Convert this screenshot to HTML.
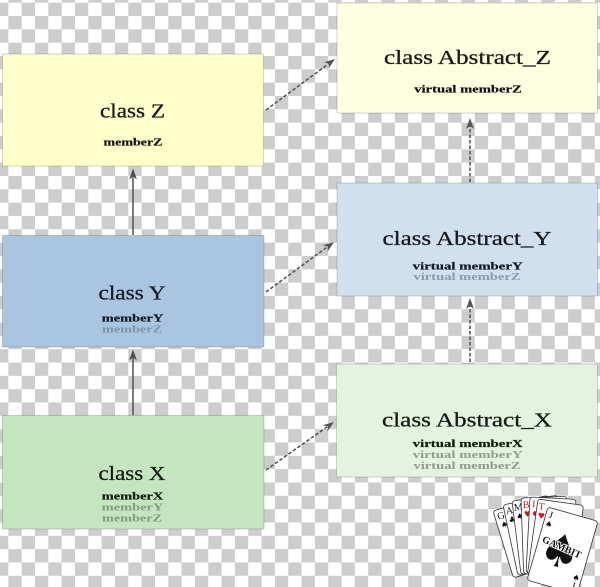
<!DOCTYPE html>
<html><head><meta charset="utf-8">
<style>
html,body{margin:0;padding:0;}
body{width:600px;height:587px;overflow:hidden;position:relative;
background: repeating-conic-gradient(#cdcdcd 0 25%, #ffffff 0 50%) -5px -10.67px / 26.67px 26.67px;}
svg{position:absolute;left:0;top:0;}
.t{font-family:"Liberation Serif",serif;font-size:20px;fill:#1a1a1a;text-anchor:middle;stroke-width:0.3}
.m{font-family:"Liberation Serif",serif;font-size:11px;font-weight:bold;text-anchor:middle;stroke-width:0.2}
.cl{font-family:"Liberation Serif",serif;font-size:10px;}
.su{font-family:"DejaVu Sans",sans-serif;font-size:8px;}
</style></head><body>
<svg width="600" height="587" viewBox="0 0 600 587" xmlns="http://www.w3.org/2000/svg">
  <!-- boxes -->
  <g stroke="rgba(0,0,0,0.16)" stroke-width="1">
    <rect x="2.5" y="54" width="261" height="112" fill="#feffc9"/>
    <rect x="2.5" y="235.5" width="261.5" height="111.5" fill="#a9c5e0"/>
    <rect x="2.5" y="415.5" width="261.5" height="113.5" fill="#c4e5bf"/>
    <rect x="337" y="3" width="260.5" height="110" fill="#fefee0"/>
    <rect x="337" y="183" width="260.5" height="113" fill="#d0e0ee"/>
    <rect x="336.5" y="364" width="261" height="113" fill="#e3f3df"/>
  </g>

  <!-- solid arrows -->
  <g stroke="#505050" stroke-width="1.5" fill="none">
    <line x1="133" y1="415" x2="133" y2="357"/>
    <line x1="133" y1="235" x2="133" y2="176"/>
  </g>
  <g fill="#505050">
    <polygon points="133,349.5 137,360.5 133,357.5 129,360.5"/>
    <polygon points="133,168.5 137,179.5 133,176.5 129,179.5"/>
  </g>

  <!-- dashed arrows -->
  <g stroke="#555" stroke-width="1.6" fill="none" stroke-dasharray="3.5 2">
    <line x1="266" y1="110" x2="328.97" y2="63.46"/>
    <line x1="266" y1="292" x2="327.95" y2="246.44"/>
    <line x1="266" y1="470" x2="327.87" y2="426.33"/>
    <line x1="470" y1="362" x2="470" y2="306"/>
    <line x1="470" y1="182" x2="470" y2="126"/>
  </g>
  <g fill="#555">
    <polygon points="335,59 328.5,68.8 328.97,63.46 323.8,62.3"/>
    <polygon points="334,242 327.5,251.7 327.95,246.44 322.8,245.3"/>
    <polygon points="334,422 327.3,431.6 327.87,426.33 322.7,425.1"/>
    <polygon points="470,298 474,309 470,306 466,309"/>
    <polygon points="470,118 474,129 470,126 466,129"/>
  </g>

  <!-- class Z -->
  <text class="t" x="132.5" y="117.5" textLength="65" lengthAdjust="spacingAndGlyphs" stroke="#1a1a1a">class Z</text>
  <text class="m" x="133" y="145.7" textLength="59" lengthAdjust="spacingAndGlyphs" fill="#111" stroke="#111">memberZ</text>

  <!-- class Y -->
  <text class="t" x="132" y="299.5" textLength="67" lengthAdjust="spacingAndGlyphs" fill="#15202c" stroke="#15202c">class Y</text>
  <text class="m" x="132.5" y="321.7" textLength="61.5" lengthAdjust="spacingAndGlyphs" fill="#111a24" stroke="#111a24">memberY</text>
  <text class="m" x="132" y="332.7" textLength="60" lengthAdjust="spacingAndGlyphs" fill="#7c94ac">memberZ</text>

  <!-- class X -->
  <text class="t" x="132" y="480" textLength="67" lengthAdjust="spacingAndGlyphs" fill="#142014" stroke="#142014">class X</text>
  <text class="m" x="132.5" y="499.3" textLength="61.5" lengthAdjust="spacingAndGlyphs" fill="#111a11" stroke="#111a11">memberX</text>
  <text class="m" x="132.5" y="510.7" textLength="61.5" lengthAdjust="spacingAndGlyphs" fill="#7f9c7c">memberY</text>
  <text class="m" x="132" y="521.7" textLength="60" lengthAdjust="spacingAndGlyphs" fill="#7f9c7c">memberZ</text>

  <!-- Abstract_Z -->
  <text class="t" x="467.5" y="64" textLength="167" lengthAdjust="spacingAndGlyphs" stroke="#1a1a1a">class Abstract_Z</text>
  <text class="m" x="468" y="92.7" textLength="107.5" lengthAdjust="spacingAndGlyphs" fill="#111" stroke="#111">virtual memberZ</text>

  <!-- Abstract_Y -->
  <text class="t" x="467" y="245" textLength="169" lengthAdjust="spacingAndGlyphs" fill="#15202c" stroke="#15202c">class Abstract_Y</text>
  <text class="m" x="467.7" y="269.3" textLength="110" lengthAdjust="spacingAndGlyphs" fill="#111a24" stroke="#111a24">virtual memberY</text>
  <text class="m" x="467" y="280" textLength="107" lengthAdjust="spacingAndGlyphs" fill="#8a9bae">virtual memberZ</text>

  <!-- Abstract_X -->
  <text class="t" x="467" y="426.7" textLength="170" lengthAdjust="spacingAndGlyphs" fill="#142014" stroke="#142014">class Abstract_X</text>
  <text class="m" x="467.7" y="447" textLength="110" lengthAdjust="spacingAndGlyphs" fill="#111a11" stroke="#111a11">virtual memberX</text>
  <text class="m" x="467.7" y="458" textLength="110" lengthAdjust="spacingAndGlyphs" fill="#8d9e8a">virtual memberY</text>
  <text class="m" x="467" y="469" textLength="107" lengthAdjust="spacingAndGlyphs" fill="#8d9e8a">virtual memberZ</text>

  <!-- Gambit cards logo -->
  <g stroke="#333" stroke-width="0.8">
    <g transform="translate(493,511) rotate(-17)">
      <rect width="46" height="70" rx="3" fill="#fff"/>
      <text class="cl" x="2.5" y="10" stroke="none" fill="#111">G</text>
      <text class="su" x="3.5" y="19" stroke="none" fill="#111">♠</text>
    </g>
    <g transform="translate(503,505) rotate(-12)">
      <rect width="46" height="72" rx="3" fill="#fff"/>
      <text class="cl" x="1.5" y="10" stroke="none" fill="#111">A</text>
      <text class="su" x="2.5" y="19" stroke="none" fill="#111">♣</text>
    </g>
    <g transform="translate(512,501) rotate(-7)">
      <rect width="46" height="74" rx="3" fill="#fff"/>
      <text class="cl" x="1" y="10" stroke="none" fill="#111">M</text>
      <text class="su" x="2.5" y="19" stroke="none" fill="#111">♠</text>
    </g>
    <g transform="translate(521,498) rotate(-2)">
      <rect width="46" height="76" rx="3" fill="#fff"/>
      <text class="cl" x="1.5" y="10" stroke="none" fill="#d21a1a">B</text>
      <text class="su" x="2.5" y="19" stroke="none" fill="#d21a1a">♥</text>
    </g>
    <g transform="translate(530,497) rotate(3)">
      <rect width="46" height="76" rx="3" fill="#fff"/>
      <text class="cl" x="2.5" y="10" stroke="none" fill="#d21a1a">I</text>
      <text class="su" x="2" y="19" stroke="none" fill="#d21a1a">♦</text>
    </g>
    <g transform="translate(538,499) rotate(8)">
      <rect width="46" height="76" rx="3" fill="#fff"/>
      <text class="cl" x="1.5" y="10" stroke="none" fill="#d21a1a">T</text>
      <text class="su" x="2" y="19" stroke="none" fill="#d21a1a">♥</text>
    </g>
    <g transform="translate(548,507) rotate(16)">
      <rect width="52" height="76" rx="3" fill="#fff"/>
      <text class="cl" x="3" y="10" stroke="none" fill="#111">J</text>
      <text class="su" x="2" y="19" stroke="none" fill="#111">♠</text>
      <text x="24" y="55" stroke="none" fill="#111" style="font-family:'DejaVu Sans',sans-serif;font-size:46px;text-anchor:middle">♠</text>
      <text x="24" y="38" stroke="#fff" stroke-width="1.8" paint-order="stroke" fill="#111" transform="rotate(8 24 38)" style="font-family:'Liberation Serif',serif;font-size:10px;font-weight:bold;text-anchor:middle">GAMBIT</text>
      <text x="43" y="63" stroke="none" fill="#111" class="su">♠</text>
      <text x="44" y="72" stroke="none" fill="#111" class="cl">J</text>
    </g>
  </g>
</svg>
</body></html>
